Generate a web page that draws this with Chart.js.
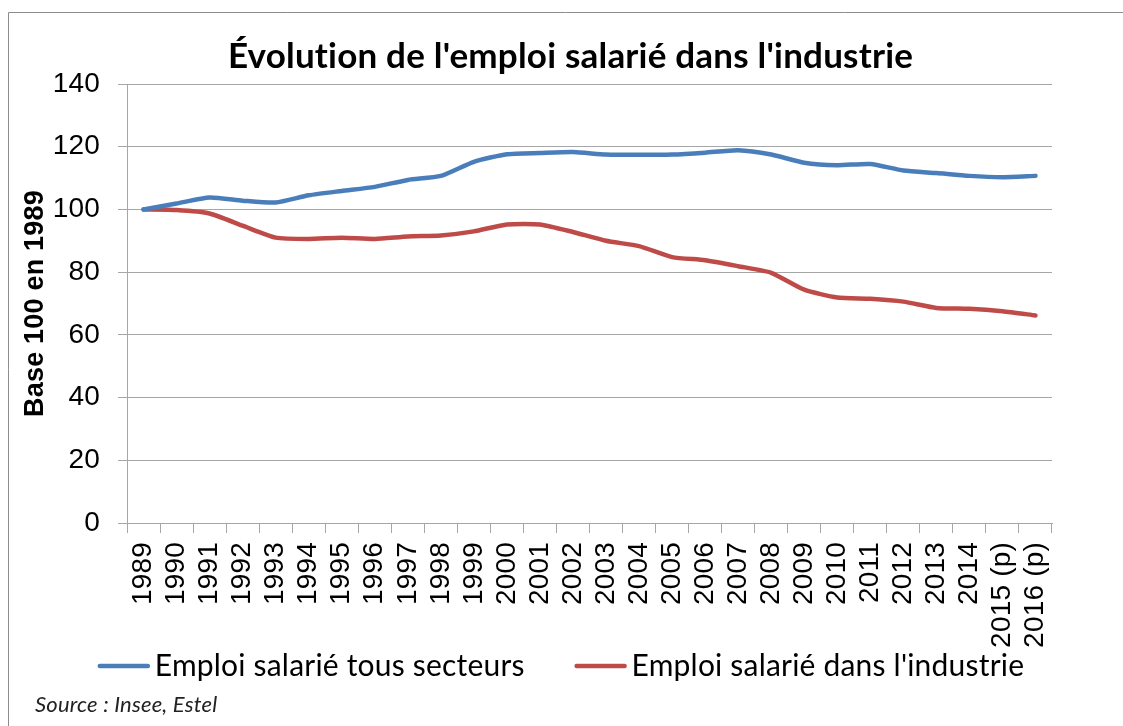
<!DOCTYPE html>
<html>
<head>
<meta charset="utf-8">
<script src="https://cdn.jsdelivr.net/npm/chart.js@4/dist/chart.umd.min.js"></script>
<style>
  html, body { margin: 0; padding: 0; background: #fff; }
  #wrap { width: 1123px; height: 726px; }
</style>
</head>
<body>
<div id="wrap"><canvas id="c" width="1123" height="726"></canvas></div>
<script>
const categories = ['1989','1990','1991','1992','1993','1994','1995','1996','1997','1998','1999','2000','2001','2002','2003','2004','2005','2006','2007','2008','2009','2010','2011','2012','2013','2014','2015 (p)','2016 (p)'];
const tousSecteurs = [100, 101.9, 103.8, 102.8, 102.2, 104.5, 105.9, 107.2, 109.4, 110.7, 115.2, 117.6, 118.0, 118.3, 117.5, 117.4, 117.5, 118.1, 118.9, 117.5, 114.9, 114.1, 114.5, 112.4, 111.6, 110.7, 110.3, 110.7];
const industrie = [100, 99.8, 98.7, 94.8, 91.0, 90.6, 91.0, 90.6, 91.4, 91.7, 93.0, 95.2, 95.2, 92.8, 90.0, 88.3, 84.8, 83.8, 81.9, 79.8, 74.4, 71.9, 71.5, 70.6, 68.6, 68.3, 67.5, 66.2];
const seriesNames = ['Emploi salarié tous secteurs', "Emploi salarié dans l'industrie"];
const seriesColors = ['#4a7ebb', '#be4b48'];
const titleText = "Évolution de l'emploi salarié dans l'industrie";
const yTitle = 'Base 100 en 1989';
const sourceText = 'Source : Insee, Estel';

const gridGray = '#a6a6a6';

const noLigPlugin = {
  id: 'noLig',
  beforeInit(chart) { try { chart.ctx.letterSpacing = '0.2px'; } catch (e) {} },
  beforeDraw(chart) { try { chart.ctx.letterSpacing = '0.2px'; } catch (e) {} }
};

const decorPlugin = {
  id: 'decor',
  afterDraw(chart) {
    const ctx = chart.ctx;
    ctx.save();
    // outer frame (left and top edges visible)
    ctx.strokeStyle = '#8c8c8c';
    ctx.lineWidth = 1;
    ctx.beginPath();
    ctx.moveTo(8.5, 726);
    ctx.lineTo(8.5, 12.5);
    ctx.lineTo(1123, 12.5);
    ctx.stroke();

    // legend
    ctx.font = '30px Lato, "Liberation Sans", sans-serif';
    const boxW = 52, gap = 5, spacing = 50;
    const items = chart.data.datasets.map(d => ({label: d.label, color: d.borderColor, w: ctx.measureText(d.label).width}));
    let total = 0;
    items.forEach((it, i) => { total += boxW + gap + it.w + (i < items.length - 1 ? spacing : 0); });
    let x = 561 - total / 2;
    const y = 666;
    ctx.textBaseline = 'middle';
    ctx.textAlign = 'left';
    items.forEach(it => {
      ctx.strokeStyle = it.color;
      ctx.lineWidth = 4.5;
      ctx.lineCap = 'round';
      ctx.beginPath();
      ctx.moveTo(x + 2, y);
      ctx.lineTo(x + boxW - 2, y);
      ctx.stroke();
      ctx.fillStyle = '#000';
      ctx.fillText(it.label, x + boxW + gap, y);
      x += boxW + gap + it.w + spacing;
    });

    // source
    ctx.font = 'italic 22px Lato, "Liberation Sans", sans-serif';
    ctx.fillStyle = '#222';
    ctx.textBaseline = 'middle';
    ctx.fillText(sourceText, 35, 705);
    ctx.restore();
  }
};

new Chart(document.getElementById('c'), {
  type: 'line',
  data: {
    labels: categories,
    datasets: [
      { label: seriesNames[0], data: tousSecteurs, borderColor: seriesColors[0], backgroundColor: seriesColors[0], borderWidth: 4.5, pointRadius: 0, tension: 0.2, borderJoinStyle: 'round', borderCapStyle: 'round' },
      { label: seriesNames[1], data: industrie, borderColor: seriesColors[1], backgroundColor: seriesColors[1], borderWidth: 4.5, pointRadius: 0, tension: 0.2, borderJoinStyle: 'round', borderCapStyle: 'round' }
    ]
  },
  options: {
    responsive: false,
    animation: false,
    devicePixelRatio: 1,
    layout: { padding: { left: 18, right: 0, top: 12, bottom: 8 } },
    plugins: {
      legend: { display: false },
      tooltip: { enabled: false },
      title: {
        display: true,
        text: titleText,
        color: '#000',
        font: { family: 'Lato, "Liberation Sans", sans-serif', size: 35, weight: 'bold', lineHeight: 1.2 },
        padding: { top: 24, bottom: 6 }
      }
    },
    scales: {
      x: {
        type: 'category',
        offset: true,
        afterFit: s => { s.height = 195; },
        grid: { offset: true, drawOnChartArea: false, drawTicks: true, tickLength: 10, color: gridGray },
        border: { display: true, color: gridGray, width: 1 },
        ticks: {
          autoSkip: false, minRotation: 90, maxRotation: 90, padding: 9,
          color: '#000',
          font: { family: '"Liberation Sans", Arial, sans-serif', size: 28 }
        }
      },
      y: {
        min: 0, max: 140,
        afterFit: s => { s.width = 109; },
        grid: { color: gridGray, lineWidth: 1, drawTicks: true, tickLength: 9 },
        border: { display: true, color: gridGray, width: 1 },
        ticks: {
          stepSize: 20, padding: 18, color: '#000',
          font: { family: '"Liberation Sans", Arial, sans-serif', size: 28 }
        },
        title: {
          display: true, text: yTitle, color: '#000',
          font: { family: '"Liberation Sans", Arial, sans-serif', size: 27, weight: 'bold', lineHeight: 1.2 },
          padding: { top: 1, bottom: 0 }
        }
      },
      y2: {
        position: 'right',
        display: true,
        afterFit: s => { s.width = 71; },
        grid: { display: false, drawTicks: false },
        border: { display: false },
        ticks: { display: false }
      }
    }
  },
  plugins: [noLigPlugin, decorPlugin]
});
</script>
</body>
</html>
